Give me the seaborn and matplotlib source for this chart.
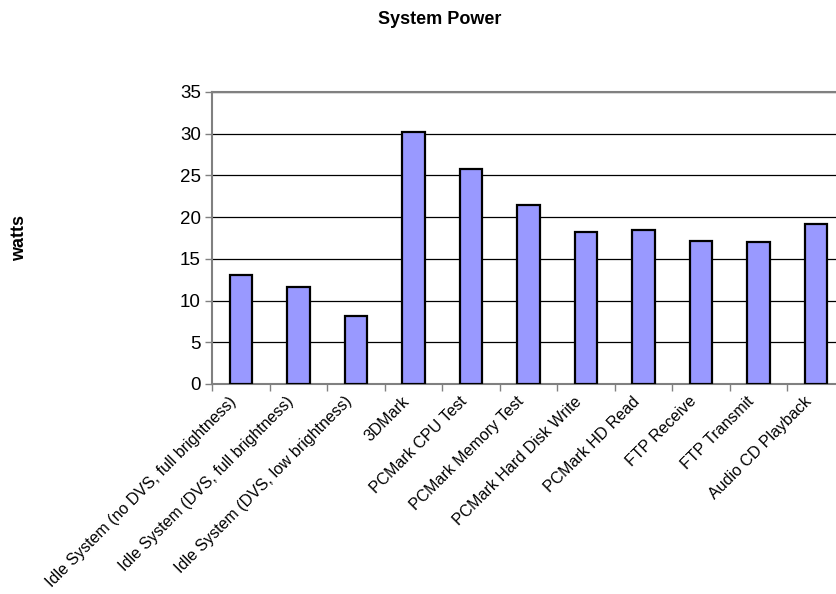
import seaborn as sns
import matplotlib.pyplot as plt
import matplotlib.transforms as mtransforms
import pandas as pd

categories = ['Idle System (no DVS, full brightness)', 'Idle System (DVS, full brightness)',
              'Idle System (DVS, low brightness)', '3DMark', 'PCMark CPU Test',
              'PCMark Memory Test', 'PCMark Hard Disk Write', 'PCMark HD Read',
              'FTP Receive', 'FTP Transmit', 'Audio CD Playback']
watts = [13.1, 11.6, 8.2, 30.2, 25.8, 21.4, 18.2, 18.4, 17.2, 17.0, 19.2]

sns.set_style('white')
plt.rcParams['font.family'] = ['Liberation Sans', 'DejaVu Sans']
plt.rcParams['text.color'] = 'black'
plt.rcParams['xtick.color'] = 'black'
plt.rcParams['ytick.color'] = 'black'

fig = plt.figure(figsize=(8.36, 5.94), dpi=100)
ax = fig.add_axes([212 / 836, 1 - 384 / 594, 633 / 836, 292 / 594])

df = pd.DataFrame({'test': categories, 'watts': watts})
sns.barplot(data=df, x='test', y='watts', color='#9999FF', saturation=1,
            edgecolor='black', linewidth=1.6, width=0.39, ax=ax, zorder=3)

ax.set_xlim(-0.5, len(categories) - 0.5)
ax.set_ylim(0, 35)
ax.set_yticks(range(0, 36, 5))
ax.yaxis.grid(True, color='black', linewidth=0.9)
ax.set_axisbelow(True)

for s in ['top', 'left', 'bottom']:
    ax.spines[s].set_color('#808080')
    ax.spines[s].set_linewidth(1.5)
ax.spines['right'].set_visible(False)

ax.tick_params(axis='y', length=5, width=1, color='#808080', direction='out',
               labelsize=13.5, pad=3, left=True, labelcolor='black')
ax.set_xticks([i - 0.5 for i in range(len(categories) + 1)], minor=True)
ax.tick_params(axis='x', which='minor', length=5, width=1, color='#808080', direction='out', bottom=True)
ax.tick_params(axis='x', which='major', length=0, pad=7, labelcolor='black')
ax.set_xticklabels(categories, rotation=45, ha='right', rotation_mode='anchor', fontsize=11.5)

# labels sit a bit left of the bar centres
shift = mtransforms.ScaledTranslation(-12 / 100, 0, fig.dpi_scale_trans)
for lbl in ax.get_xticklabels():
    lbl.set_transform(lbl.get_transform() + shift)

ax.set_xlabel('')
ax.set_ylabel('')
fig.text(20 / 836, 1 - 238 / 594, 'watts', rotation=90, fontsize=13, fontweight='bold',
         ha='center', va='center', color='black')
fig.text(440 / 836, 1 - 20 / 594, 'System Power', fontsize=13, fontweight='bold',
         ha='center', va='center', color='black')

plt.savefig('out.png', dpi=100)
